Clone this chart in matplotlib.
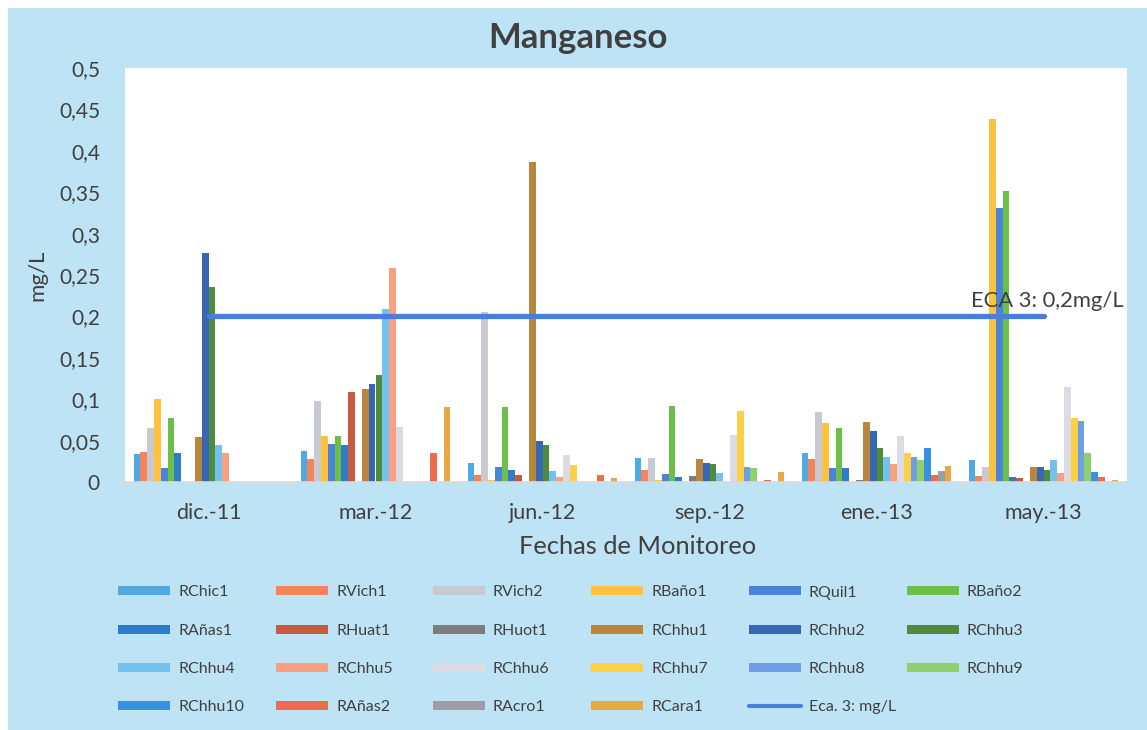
import numpy as np
import matplotlib
matplotlib.use("Agg")
import matplotlib.pyplot as plt
from matplotlib.patches import Rectangle, Patch
from matplotlib.lines import Line2D
from matplotlib.ticker import FuncFormatter, FixedLocator

plt.rcParams['font.family'] = ['Lato', 'DejaVu Sans']

categories = ['dic.-11', 'mar.-12', 'jun.-12', 'sep.-12', 'ene.-13', 'may.-13']

series_names = ['RChic1', 'RVich1', 'RVich2', 'RBaño1', 'RQuil1', 'RBaño2',
                'RAñas1', 'RHuat1', 'RHuot1', 'RChhu1', 'RChhu2', 'RChhu3',
                'RChhu4', 'RChhu5', 'RChhu6', 'RChhu7', 'RChhu8', 'RChhu9',
                'RChhu10', 'RAñas2', 'RAcro1', 'RCara1']

RChic1 = [0.034, 0.037, 0.023, 0.029, 0.035, 0.027]
RVich1 = [0.036, 0.028, 0.009, 0.015, 0.028, 0.007]
RVich2 = [0.065, 0.098, 0.205, 0.029, 0.084, 0.018]
RBano1 = [0.100, 0.055, 0.002, 0.003, 0.071, 0.439]
RQuil1 = [0.017, 0.046, 0.018, 0.010, 0.017, 0.331]
RBano2 = [0.077, 0.055, 0.090, 0.092, 0.065, 0.351]
RAnas1 = [0.035, 0.045, 0.015, 0.006, 0.017, 0.006]
RHuat1 = [0.0, 0.109, 0.008, 0.0, 0.0, 0.005]
RHuot1 = [0.0, 0.0, 0.0, 0.007, 0.003, 0.0]
RChhu1 = [0.054, 0.112, 0.386, 0.028, 0.072, 0.018]
RChhu2 = [0.277, 0.118, 0.049, 0.023, 0.061, 0.018]
RChhu3 = [0.236, 0.129, 0.045, 0.022, 0.041, 0.015]
RChhu4 = [0.045, 0.209, 0.013, 0.011, 0.030, 0.027]
RChhu5 = [0.035, 0.259, 0.006, 0.0, 0.022, 0.011]
RChhu6 = [0.0, 0.067, 0.033, 0.057, 0.056, 0.115]
RChhu7 = [0.0, 0.0, 0.020, 0.086, 0.035, 0.077]
RChhu8 = [0.0, 0.0, 0.0, 0.018, 0.030, 0.074]
RChhu9 = [0.0, 0.0, 0.0, 0.017, 0.026, 0.035]
RChhu10 = [0.0, 0.0, 0.0, 0.0, 0.041, 0.012]
RAnas2 = [0.0, 0.035, 0.008, 0.003, 0.009, 0.006]
RAcro1 = [0.0, 0.0, 0.0, 0.0, 0.013, 0.0]
RCara1 = [0.0, 0.091, 0.005, 0.012, 0.019, 0.003]

eca_name = 'Eca. 3: mg/L'
eca_values = [0.2, 0.2, 0.2, 0.2, 0.2, 0.2]
eca_label = 'ECA 3: 0,2mg/L'

y_ticks = [0, 0.05, 0.1, 0.15, 0.2, 0.25, 0.3, 0.35, 0.4, 0.45, 0.5]

series_values = [RChic1, RVich1, RVich2, RBano1, RQuil1, RBano2, RAnas1, RHuat1,
                 RHuot1, RChhu1, RChhu2, RChhu3, RChhu4, RChhu5, RChhu6, RChhu7,
                 RChhu8, RChhu9, RChhu10, RAnas2, RAcro1, RCara1]

colors = ['#4FAAE3', '#F5845C', '#C9C9D2', '#FFC23F', '#4A84D8', '#6CC04A',
          '#2E7CC8', '#C95A42', '#7D7D80', '#B8873D', '#3767B2', '#4E8B3C',
          '#72C2EE', '#F9A082', '#DCDAE2', '#FFCF45', '#6E9FE6', '#90D06C',
          '#3990E0', '#EE6B4D', '#9D9DA8', '#E8A845']
eca_color = '#4A7ED8'
bg_color = '#BEE3F4'
text_color = '#404040'

W, H = 1147, 730
fig = plt.figure(figsize=(W / 100, H / 100), dpi=100)
fig.patch.set_facecolor('white')
fig.add_artist(Rectangle((8 / W, 0), 1 - 8 / W, 1 - 8 / H, transform=fig.transFigure,
                         facecolor=bg_color, edgecolor='none', zorder=0))

ax_l, ax_r, ax_t, ax_b = 125, 1127, 68, 482
ax = fig.add_axes([ax_l / W, 1 - ax_b / H, (ax_r - ax_l) / W, (ax_b - ax_t) / H])
ax.set_facecolor('white')

n = len(series_names)
x = np.arange(len(categories))
w = 1.0 / (n + 2.5)
handles = []
for i, (name, vals, c) in enumerate(zip(series_names, series_values, colors)):
    ax.bar(x + (i - (n - 1) / 2) * w, vals, width=w, color=c, label=name, zorder=2)
    handles.append(Patch(facecolor=c, edgecolor='none', label=name))

ax.plot(x, eca_values, color=eca_color, lw=3.8, solid_capstyle='round', zorder=3)
handles.append(Line2D([0], [0], color=eca_color, lw=3, solid_capstyle='round', label=eca_name))

ax.text(4.563, 0.219, eca_label, fontsize=15.8, color=text_color, ha='left', va='center', zorder=4)

ax.set_xlim(-0.5, len(categories) - 0.5)
ax.set_ylim(0, 0.5)
ax.set_xticks(x)
ax.set_xticklabels(categories)
ax.xaxis.set_minor_locator(FixedLocator(np.arange(len(categories) + 1) - 0.5))
ax.tick_params(axis='x', which='major', length=0, pad=15, labelsize=15.5, labelcolor=text_color)
ax.tick_params(axis='x', which='minor', length=5, width=1, color='#D9D9D9')
ax.set_yticks(y_ticks)
ax.yaxis.set_major_formatter(FuncFormatter(lambda v, p: ('%g' % round(v, 2)).replace('.', ',')))
ax.tick_params(axis='y', length=0, pad=18, labelsize=15, labelcolor=text_color)
for s in ['left', 'top', 'right']:
    ax.spines[s].set_visible(False)
ax.spines['bottom'].set_color('#D9D9D9')
ax.spines['bottom'].set_linewidth(1.2)

ax.set_xlabel('Fechas de Monitoreo', fontsize=18.3, color=text_color)
ax.xaxis.set_label_coords((638 - ax_l) / (ax_r - ax_l), (ax_b - 535) / (ax_b - ax_t))
ax.set_ylabel('mg/L', fontsize=16, color=text_color)
ax.yaxis.set_label_coords((47 - ax_l) / (ax_r - ax_l), 0.5)

fig.text(578 / W, 1 - 38 / H, 'Manganeso', ha='center', va='center', fontsize=25,
         fontweight='bold', color=text_color)

# legend: 6 columns, filled row by row
col_x = [118, 276, 433, 591, 749, 907]
row_top = 591 - 9.5 + 4
fs = 11.5
for j, cx in enumerate(col_x):
    hs = [handles[k] for k in range(j, len(handles), 6)]
    leg = fig.legend(handles=hs, loc='upper left', bbox_to_anchor=(cx / W, 1 - row_top / H),
                     bbox_transform=fig.transFigure, frameon=False, fontsize=fs,
                     handlelength=52 / (fs * 100 / 72), handleheight=8 / (fs * 100 / 72),
                     handletextpad=8 / (fs * 100 / 72), labelspacing=1.52,
                     borderpad=0, borderaxespad=0, labelcolor=text_color)

fig.savefig('out.png', dpi=100, facecolor=fig.get_facecolor())
